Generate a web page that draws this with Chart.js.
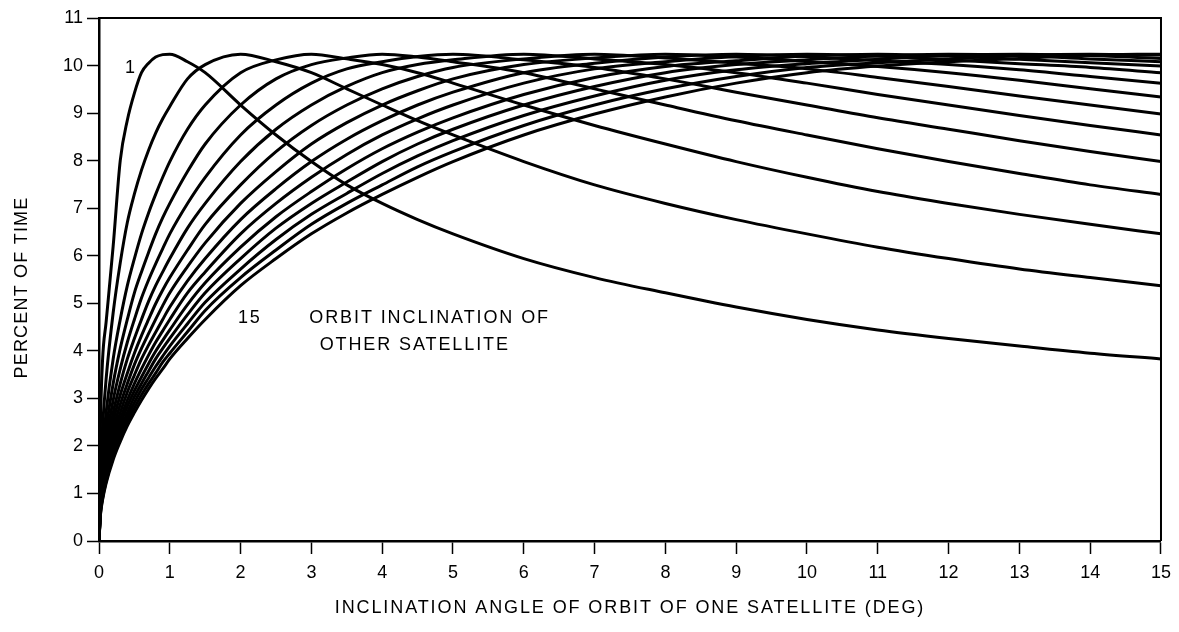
<!DOCTYPE html>
<html>
<head>
<meta charset="utf-8">
<script src="https://cdn.jsdelivr.net/npm/chart.js@4.4.0/dist/chart.umd.min.js"></script>
<style>
    html, body { margin: 0; padding: 0; background: #fff; }
</style>
</head>
<body>
<canvas id="orbit_chart" width="1179" height="632"></canvas>
<script>
// inclination of one satellite (deg)
const xs = [0, 0.02, 0.05, 0.1, 0.2, 0.3, 0.4, 0.5, 0.6, 0.7, 0.8, 0.9, 1,
    1.25, 1.5, 2, 2.5, 3, 3.5, 4, 4.5, 5, 6, 7, 8, 9, 10, 11, 12, 13, 14, 15]

// percent of time, one list per orbit inclination of the other satellite
const inc1 = [0, 2.4, 3.8, 4.6, 6.2, 8.0, 8.85, 9.42, 9.85, 10.05, 10.18, 10.23, 10.24, 10.08, 9.85, 9.17, 8.54, 7.98, 7.49, 7.10, 6.76, 6.46, 5.94, 5.54, 5.22, 4.92, 4.66, 4.44, 4.26, 4.10, 3.95, 3.83]
const inc2 = [0, 1.5, 2.4, 3.4, 4.8, 5.85, 6.7, 7.3, 7.8, 8.22, 8.58, 8.88, 9.14, 9.72, 10.02, 10.24, 10.08, 9.85, 9.51, 9.17, 8.84, 8.54, 7.98, 7.49, 7.10, 6.76, 6.46, 6.18, 5.94, 5.72, 5.54, 5.37]
const inc3 = [0, 1.21, 1.91, 2.70, 3.83, 4.66, 5.37, 5.94, 6.46, 6.90, 7.29, 7.65, 7.98, 8.66, 9.17, 9.85, 10.12, 10.24, 10.14, 10.02, 9.85, 9.63, 9.17, 8.74, 8.35, 7.98, 7.65, 7.35, 7.10, 6.87, 6.66, 6.46]
const inc4 = [0, 1.05, 1.66, 2.34, 3.31, 4.05, 4.66, 5.22, 5.66, 6.07, 6.46, 6.80, 7.10, 7.77, 8.35, 9.17, 9.72, 10.02, 10.16, 10.24, 10.18, 10.08, 9.85, 9.51, 9.17, 8.84, 8.54, 8.25, 7.98, 7.73, 7.49, 7.29]
const inc5 = [0, 0.94, 1.48, 2.09, 2.96, 3.62, 4.18, 4.66, 5.11, 5.49, 5.83, 6.15, 6.46, 7.10, 7.65, 8.54, 9.17, 9.63, 9.93, 10.08, 10.19, 10.24, 10.12, 9.96, 9.72, 9.44, 9.17, 8.90, 8.66, 8.42, 8.19, 7.98]
const inc6 = [0, 0.86, 1.35, 1.91, 2.70, 3.31, 3.83, 4.26, 4.66, 5.04, 5.37, 5.66, 5.94, 6.58, 7.10, 7.98, 8.66, 9.17, 9.56, 9.85, 10.02, 10.12, 10.24, 10.14, 10.02, 9.85, 9.63, 9.39, 9.17, 8.95, 8.74, 8.54]
const inc7 = [0, 0.79, 1.25, 1.77, 2.51, 3.07, 3.53, 3.95, 4.32, 4.66, 4.99, 5.28, 5.54, 6.12, 6.66, 7.49, 8.19, 8.74, 9.17, 9.51, 9.77, 9.96, 10.14, 10.24, 10.16, 10.05, 9.93, 9.75, 9.56, 9.36, 9.17, 8.98]
const inc8 = [0, 0.74, 1.17, 1.66, 2.34, 2.87, 3.31, 3.71, 4.05, 4.36, 4.66, 4.95, 5.22, 5.77, 6.27, 7.10, 7.77, 8.35, 8.80, 9.17, 9.47, 9.72, 10.02, 10.16, 10.24, 10.18, 10.08, 9.98, 9.85, 9.69, 9.51, 9.34]
const inc9 = [0, 0.70, 1.11, 1.56, 2.21, 2.70, 3.13, 3.49, 3.83, 4.12, 4.39, 4.66, 4.92, 5.47, 5.94, 6.76, 7.41, 7.98, 8.45, 8.84, 9.17, 9.44, 9.85, 10.05, 10.18, 10.24, 10.19, 10.10, 10.02, 9.91, 9.77, 9.63]
const inc10 = [0, 0.66, 1.05, 1.48, 2.09, 2.56, 2.96, 3.31, 3.62, 3.91, 4.18, 4.42, 4.66, 5.22, 5.66, 6.46, 7.10, 7.65, 8.13, 8.54, 8.88, 9.17, 9.63, 9.93, 10.08, 10.19, 10.24, 10.20, 10.12, 10.04, 9.96, 9.85]
const inc11 = [0, 0.63, 1.00, 1.41, 2.00, 2.45, 2.83, 3.16, 3.45, 3.73, 3.99, 4.22, 4.44, 4.97, 5.43, 6.18, 6.82, 7.35, 7.83, 8.25, 8.60, 8.90, 9.39, 9.75, 9.98, 10.10, 10.20, 10.24, 10.20, 10.13, 10.06, 9.99]
const inc12 = [0, 0.61, 0.96, 1.35, 1.91, 2.34, 2.70, 3.03, 3.31, 3.57, 3.83, 4.05, 4.26, 4.76, 5.22, 5.94, 6.58, 7.10, 7.55, 7.98, 8.35, 8.66, 9.17, 9.56, 9.85, 10.02, 10.12, 10.20, 10.24, 10.21, 10.14, 10.08]
const inc13 = [0, 0.58, 0.92, 1.30, 1.84, 2.25, 2.60, 2.91, 3.19, 3.43, 3.67, 3.89, 4.10, 4.57, 5.02, 5.72, 6.34, 6.87, 7.31, 7.73, 8.10, 8.42, 8.95, 9.36, 9.69, 9.91, 10.04, 10.13, 10.21, 10.24, 10.21, 10.15]
const inc14 = [0, 0.56, 0.89, 1.25, 1.77, 2.17, 2.51, 2.80, 3.07, 3.31, 3.53, 3.76, 3.95, 4.40, 4.85, 5.54, 6.12, 6.66, 7.10, 7.49, 7.87, 8.19, 8.74, 9.17, 9.51, 9.77, 9.96, 10.06, 10.14, 10.21, 10.24, 10.22]
const inc15 = [0, 0.54, 0.86, 1.21, 1.71, 2.09, 2.42, 2.70, 2.96, 3.20, 3.42, 3.62, 3.83, 4.26, 4.66, 5.37, 5.94, 6.46, 6.90, 7.29, 7.65, 7.98, 8.54, 8.98, 9.34, 9.63, 9.85, 9.99, 10.08, 10.15, 10.22, 10.24]

const series = [inc1, inc2, inc3, inc4, inc5, inc6, inc7, inc8, inc9, inc10, inc11, inc12, inc13, inc14, inc15]

const xTicks = [0, 1, 2, 3, 4, 5, 6, 7, 8, 9, 10, 11, 12, 13, 14, 15]
const yTicks = [0, 1, 2, 3, 4, 5, 6, 7, 8, 9, 10, 11]

const xTitle = 'INCLINATION ANGLE OF ORBIT OF ONE SATELLITE (DEG)'
const yTitle = 'PERCENT OF TIME'

// curve labels, placed in data units
const notes = [
    { text: '1', x: 0.45, y: 9.95 },
    { text: '15', x: 2.13, y: 4.69 },
    { text: 'ORBIT INCLINATION OF', x: 4.67, y: 4.69 },
    { text: 'OTHER SATELLITE', x: 4.46, y: 4.12 }
]

const ink = '#000'
const family = '"Liberation Sans", Arial, sans-serif'

// top/right frame plus the text drawn straight on the canvas
const frame_and_notes = {
    id: 'frame_and_notes',
    afterDraw(chart) {
        const { ctx, chartArea: a, scales: { x, y } } = chart
        ctx.save()
        ctx.strokeStyle = ink
        ctx.lineWidth = 2
        ctx.beginPath()
        ctx.moveTo(a.left, a.top)
        ctx.lineTo(a.right, a.top)
        ctx.lineTo(a.right, a.bottom)
        ctx.stroke()

        ctx.fillStyle = ink
        ctx.font = '18px ' + family
        ctx.letterSpacing = '1.9px'
        ctx.textAlign = 'center'
        ctx.textBaseline = 'middle'
        notes.forEach(n => {
            ctx.fillText(n.text, x.getPixelForValue(n.x), y.getPixelForValue(n.y))
        })
        ctx.fillText(xTitle, (a.left + a.right) / 2, a.bottom + 67)
        ctx.letterSpacing = '1.2px'
        ctx.translate(22, (a.top + a.bottom) / 2 + 8)
        ctx.rotate(-Math.PI / 2)
        ctx.fillText(yTitle, 0, 0)
        ctx.restore()
    }
}

const orbit_chart = document.querySelector('#orbit_chart')

new Chart(orbit_chart, {
    type: 'line',
    data: {
        datasets: series.map((ys, i) => ({
            label: String(i + 1),
            data: xs.map((x, j) => ({ x: x, y: ys[j] })),
            borderColor: ink,
            borderWidth: 3,
            pointRadius: 0,
            fill: false,
            cubicInterpolationMode: 'monotone'
        }))
    },
    options: {
        responsive: false,
        animation: false,
        layout: {
            padding: { top: 18, right: 16.5, left: 0, bottom: 0 }
        },
        plugins: {
            legend: false,
            tooltip: { enabled: false }
        },
        scales: {
            x: {
                type: 'linear',
                min: 0,
                max: 15,
                afterFit: s => { s.height = 91 },
                afterBuildTicks: s => { s.ticks = xTicks.map(v => ({ value: v })) },
                grid: {
                    drawOnChartArea: false,
                    tickLength: 13,
                    tickColor: ink,
                    tickWidth: 1.5
                },
                border: { color: ink, width: 2.5 },
                ticks: {
                    color: ink,
                    padding: 8,
                    maxRotation: 0,
                    font: { family: family, size: 18 }
                }
            },
            y: {
                min: 0,
                max: 11,
                afterFit: s => { s.width = 99 },
                afterBuildTicks: s => { s.ticks = yTicks.map(v => ({ value: v })) },
                grid: {
                    drawOnChartArea: false,
                    tickLength: 12,
                    tickColor: ink,
                    tickWidth: 1.5
                },
                border: { color: ink, width: 2.5 },
                ticks: {
                    color: ink,
                    padding: 4,
                    font: { family: family, size: 18 }
                }
            }
        }
    },
    plugins: [frame_and_notes]
})
</script>
</body>
</html>
